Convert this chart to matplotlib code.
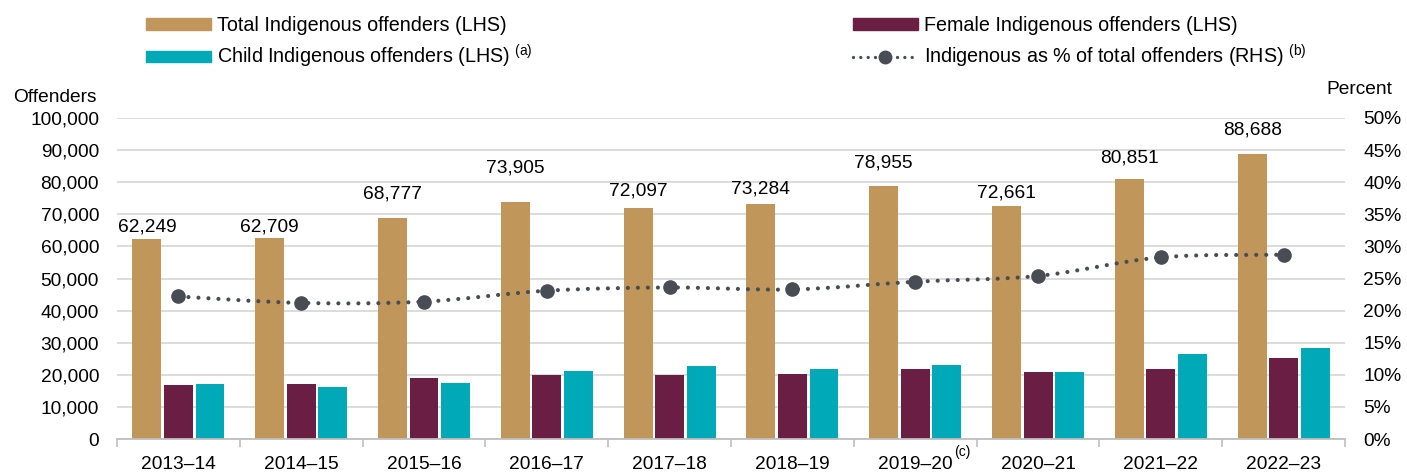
import matplotlib
matplotlib.use("Agg")
import matplotlib.pyplot as plt
import numpy as np
from matplotlib.path import Path
from matplotlib.patches import PathPatch, Patch
from matplotlib.lines import Line2D

years = ["2013–14", "2014–15", "2015–16", "2016–17", "2017–18", "2018–19",
         "2019–20", "2020–21", "2021–22", "2022–23"]
total = [62249, 62709, 68777, 73905, 72097, 73284, 78955, 72661, 80851, 88688]
female = [16700, 17100, 19000, 20000, 20000, 20400, 21800, 20900, 21800, 25200]
child = [17100, 16200, 17500, 21300, 22800, 21800, 23200, 20900, 26600, 28500]
pct = [22.2, 21.2, 21.4, 23.1, 23.6, 23.3, 24.5, 25.4, 28.3, 28.7]

# gap (points) between each total bar and its value label, as placed in the original
label_gap_pt = [3, 1.5, 11, 18, 6, 4.5, 10, 3, 9.5, 11.5]

C_TOTAL = "#C0965A"
C_FEMALE = "#6B1E44"
C_CHILD = "#00A9B7"
C_LINE = "#474C55"
GRID = "#D9D9D9"

plt.rcParams['font.family'] = ['Liberation Sans', 'DejaVu Sans']
plt.rcParams['mathtext.fontset'] = 'custom'
plt.rcParams['mathtext.rm'] = 'Liberation Sans'
FS = 13.8
LFS = 14.2

fig = plt.figure(figsize=(14.07, 4.72), dpi=100)
ax = fig.add_axes([0.0832, 0.0699, 0.8728, 0.6801])
ax2 = ax.twinx()

x = np.arange(len(years))
w = 0.235
off = 0.257
ax.bar(x - off, total, w, color=C_TOTAL, zorder=2)
ax.bar(x, female, w, color=C_FEMALE, zorder=2)
ax.bar(x + off, child, w, color=C_CHILD, zorder=2)

for xi, v, g in zip(x, total, label_gap_pt):
    ax.annotate(f"{v:,}", (xi - off, v), xytext=(0, g), textcoords="offset points",
                ha="center", va="bottom", fontsize=FS, color="black")

ax.set_xlim(-0.5, len(years) - 0.5)
ax.set_ylim(0, 100000)
ax.set_yticks(np.arange(0, 100001, 10000))
ax.set_yticklabels([f"{v:,}" for v in range(0, 100001, 10000)], fontsize=FS)
ax.yaxis.grid(True, color=GRID, linewidth=1.3, zorder=0)
ax.set_axisbelow(True)
ax.set_xticks(x)
ax.set_xticklabels(years, fontsize=FS)
ax.set_xticks(np.arange(-0.5, len(years), 1.0), minor=True)
ax.tick_params(axis='x', which='major', length=0, pad=12.5)
ax.tick_params(axis='x', which='minor', length=6, color="#BFBFBF", width=1.2)
ax.tick_params(axis='y', length=0, pad=13)
for s in ["top", "left", "right"]:
    ax.spines[s].set_visible(False)
ax.spines["bottom"].set_color("#BFBFBF")
ax.spines["bottom"].set_linewidth(1.3)

ax2.set_ylim(0, 50)
ax2.set_yticks(np.arange(0, 51, 5))
ax2.set_yticklabels([f"{v}%" for v in range(0, 51, 5)], fontsize=FS)
ax2.tick_params(axis='y', length=0, pad=13)
for s in ["top", "left", "right", "bottom"]:
    ax2.spines[s].set_visible(False)

# smoothed dotted line (Bezier through the data points)
P = np.column_stack([x, pct]).astype(float)
n = len(P)
verts = [P[0]]
codes = [Path.MOVETO]
for i in range(n - 1):
    p0 = P[i - 1] if i > 0 else P[i]
    p1 = P[i]
    p2 = P[i + 1]
    p3 = P[i + 2] if i + 2 < n else P[i + 1]
    c1 = p1 + (p2 - p0) / 6.0
    c2 = p2 - (p3 - p1) / 6.0
    verts += [c1, c2, p2]
    codes += [Path.CURVE4] * 3
patch = PathPatch(Path(verts, codes), fill=False, edgecolor=C_LINE, linewidth=3.0,
                  linestyle=(0, (0.001, 2.4)), zorder=3)
patch.set_capstyle("round")
ax2.add_patch(patch)
ax2.plot(x, pct, linestyle="none", marker="o", markersize=9.5, color=C_LINE, zorder=4)

# axis titles
fig.text(13 / 1407, 1 - 98 / 472, "Offenders", fontsize=FS, ha="left", va="center")
fig.text(1392 / 1407, 1 - 89 / 472, "Percent", fontsize=FS, ha="right", va="center")

# footnote (c)
ax.annotate("(c)", (6, 0), xycoords="data", xytext=(34, -9.5), textcoords="offset points",
            fontsize=10, ha="center", va="center")

# legends
h_total = Patch(color=C_TOTAL)
h_child = Patch(color=C_CHILD)
h_female = Patch(color=C_FEMALE)
h_line = Line2D([0], [0], color=C_LINE, linewidth=2.4, linestyle=(0, (0.001, 2.2)),
                dash_capstyle="round", marker="o", markersize=9)

common = dict(loc="upper left", frameon=False, fontsize=LFS, handlelength=3.3,
              handleheight=0.5, handletextpad=0.3, labelspacing=0.4,
              borderaxespad=0, borderpad=0.3)
leg1 = fig.legend([h_total, h_child],
                  ["Total Indigenous offenders (LHS)",
                   "Child Indigenous offenders (LHS) $^{\\mathrm{(a)}}$"],
                  bbox_to_anchor=(140 / 1407, 1 - 10 / 472), **common)
leg2 = fig.legend([h_female, h_line],
                  ["Female Indigenous offenders (LHS)",
                   "Indigenous as % of total offenders (RHS) $^{\\mathrm{(b)}}$"],
                  bbox_to_anchor=(847 / 1407, 1 - 10 / 472), **common)

fig.savefig("out.png", dpi=100)
